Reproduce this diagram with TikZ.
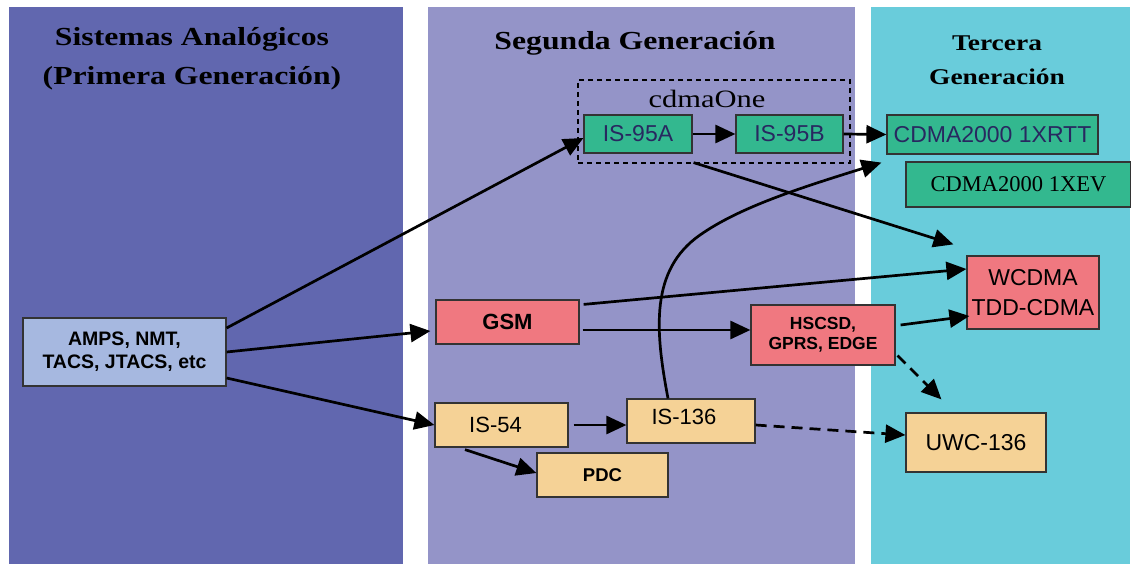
\documentclass[tikz,border=0pt]{standalone}
\usepackage{fontspec}
\setmainfont{Liberation Serif}
\setsansfont{Liberation Sans}
\newfontfamily\headfont[FakeStretch=1.22]{Liberation Serif}
\usetikzlibrary{arrows.meta}
\definecolor{analog}{RGB}{97,103,175}
\definecolor{second}{RGB}{148,148,200}
\definecolor{third}{RGB}{105,204,219}
\definecolor{cdmagreen}{RGB}{51,184,143}
\definecolor{gsmred}{RGB}{240,120,128}
\definecolor{tdmatan}{RGB}{245,210,150}
\definecolor{ampsblue}{RGB}{166,184,224}
\definecolor{navytext}{RGB}{40,40,96}
\tikzset{%
    sysbox/.style={%
        draw=black!80, line width=1.2pt, inner sep=0pt, align=center,
        font=\sffamily\fontsize{23}{30}\selectfont
    },
    greenbox/.style={sysbox, fill=cdmagreen, text=navytext},
    redbox/.style={sysbox, fill=gsmred},
    tanbox/.style={sysbox, fill=tdmatan},
    smallbold/.style 2 args={font=\sffamily\bfseries\fontsize{#1}{#2}\selectfont},
    colhead/.style 2 args={align=center, font=\headfont\bfseries\fontsize{#1}{#2}\selectfont},
    evol/.style={-{Triangle[length=20pt,width=18pt]}, line width=2.7pt},
    evoldash/.style={evol, dash pattern=on 11pt off 7pt}
}

\begin{document}
\begin{tikzpicture}[x=1pt,y=-1pt]
	\useasboundingbox[fill=white] (0,0) rectangle (1131,564);
	% columns
	\fill[analog] (9,7) rectangle (403,564);
	\fill[second] (428,7) rectangle (855,564);
	\fill[third] (871,7) rectangle (1130,564);
	\node[colhead={26}{39}] (head1) at (192,59) {Sistemas Analógicos\\(Primera Generación)};
	\node[colhead={26}{39}] (head2) at (635,43) {Segunda Generación};
	\node[colhead={22.5}{34}] (head3) at (997,60) {Tercera\\Generación};
	% cdmaOne group
	\node[draw, line width=1.3pt, dash pattern=on 5pt off 4pt, minimum width=272, minimum height=83] (cdmaone) at (714,121.5) {};
	\node[font=\headfont\fontsize{25}{30}\selectfont] (cdmalabel) at (707,99) {cdmaOne};
	% systems
	\node[sysbox, fill=ampsblue, smallbold={19.5}{23}, minimum width=203, minimum height=68] (amps) at (124.5,352) {AMPS, NMT,\\TACS, JTACS, etc};
	\node[greenbox, minimum width=108, minimum height=38] (is95a) at (638,134) {IS-95A};
	\node[greenbox, minimum width=107, minimum height=38] (is95b) at (789.5,134) {IS-95B};
	\node[greenbox, minimum width=211, minimum height=39] (rtt) at (992.5,134.5) {CDMA2000 1XRTT};
	\node[sysbox, fill=cdmagreen, font=\rmfamily\fontsize{22.5}{27}\selectfont, minimum width=225, minimum height=45] (xev) at (1018.5,184.5) {CDMA2000 1XEV};
	\node[redbox, smallbold={22}{26}, minimum width=143, minimum height=44] (gsm) at (507.5,322) {GSM};
	\node[redbox, smallbold={17.5}{20}, minimum width=144, minimum height=60] (hscsd) at (823,335) {HSCSD,\\GPRS, EDGE};
	\node[redbox, minimum width=132, minimum height=73] (wcdma) at (1033,292.5) {WCDMA\\TDD-CDMA};
	\node[tanbox, font=\sffamily\fontsize{22}{26}\selectfont, minimum width=133, minimum height=44] (is54) at (501.5,425) {IS-54\hspace{12pt}};
	\node[tanbox, font=\sffamily\fontsize{22}{26}\selectfont, minimum width=128, minimum height=44] (is136) at (691,421) {IS-136\hspace{14pt}\rule[-9pt]{0pt}{1pt}};
	\node[tanbox, smallbold={18.5}{22}, minimum width=131, minimum height=44] (pdc) at (602.5,475) {PDC};
	\node[tanbox, minimum width=140, minimum height=59] (uwc) at (976,442.5) {UWC-136};
	% free ends
	\coordinate (wcdmain) at ([shift={(-13pt,11pt)}]wcdma.north west);
	\coordinate (uwcin) at ([shift={(36pt,13pt)}]uwc.north west);
	\coordinate (rttin) at ([shift={(-5pt,-8pt)}]rtt.south west);
	% evolution
	\draw[evol] ([yshift=24pt]amps.east) -- ([yshift=-4pt]is95a.west);
	\draw[evol] (amps.east) -- ([shift={(-5pt,-9pt)}]gsm.west);
	\draw[evol] ([yshift=-26pt]amps.east) -- (is54.west);
	\draw[evol] (is95a.east) -- (is95b.west);
	\draw[evol] (is95b.east) -- (rtt.west);
	\draw[evol] ([shift={(1pt,-9pt)}]is95a.south east) -- (wcdmain);
	\draw[evol] ([shift={(4pt,-5pt)}]gsm.north east) -- ([yshift=23.5pt]wcdma.west);
	\draw[evol] ([shift={(3pt,-8pt)}]gsm.east) -- ([yshift=5pt]hscsd.west);
	\draw[evol] ([shift={(5pt,10pt)}]hscsd.east) -- ([shift={(3pt,-23.5pt)}]wcdma.west);
	\draw[evoldash] ([shift={(2pt,10pt)}]hscsd.south east) -- (uwcin);
	\draw[evol] ([xshift=5pt]is54.east) -- ([yshift=-4pt]is136.west);
	\draw[evol] ([shift={(-36.5pt,-2pt)}]is54.south) -- ([yshift=2pt]pdc.west);
	\draw[evoldash] ([yshift=-4pt]is136.east) -- ([yshift=7.5pt]uwc.west);
	\draw[evol] ([xshift=-23pt]is136.north) .. controls (655,330) and (650,270) .. (700,235)
		.. controls (740,207) and (800,188) .. (rttin);
\end{tikzpicture}
\end{document}
